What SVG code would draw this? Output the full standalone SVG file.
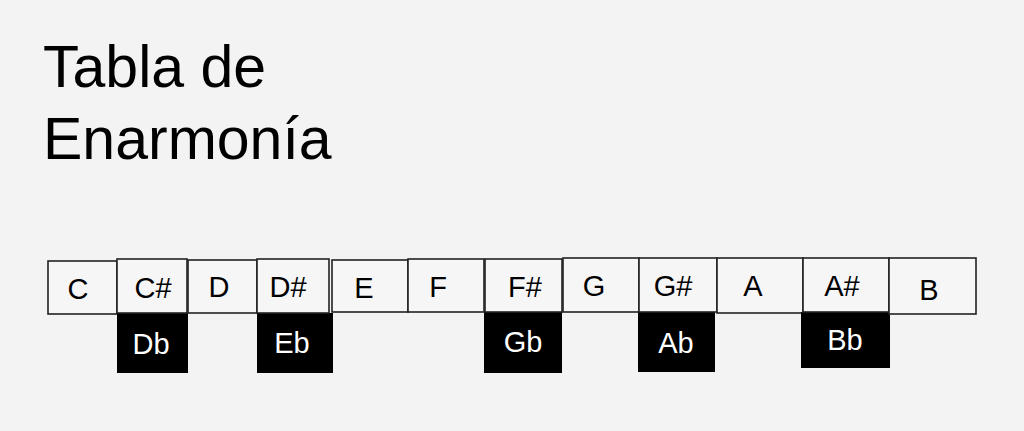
<svg xmlns="http://www.w3.org/2000/svg" width="1024" height="431" viewBox="0 0 1024 431">
<style>
.bg{fill:#f3f3f3}
.w{fill:#f6f6f6;stroke:#222;stroke-width:1.6}
.k{fill:#000}
.t{font-family:"Liberation Sans",Arial,sans-serif;font-size:29px;fill:#000;text-anchor:middle}
.tk{font-family:"Liberation Sans",Arial,sans-serif;font-size:29px;fill:#fff;text-anchor:middle}
.title{font-family:"Liberation Sans",Arial,sans-serif;font-size:59px;fill:#000}
</style>
<rect class="bg" x="0" y="0" width="1024" height="431"/>
<g id="title">
<text class="title" x="43" y="87">Tabla de</text>
<text class="title" x="43" y="159">Enarmonía</text>
</g>
<g id="key-C"><rect class="w" x="48" y="261" width="69" height="53"/><text class="t" x="78" y="299">C</text></g>
<g id="key-Db"><rect class="k" x="117" y="313" width="71" height="60"/><text class="tk" x="151" y="354">Db</text></g>
<g id="key-Cs"><rect class="w" x="117" y="259" width="70" height="54"/><text class="t" x="153" y="298">C#</text></g>
<g id="key-D"><rect class="w" x="188" y="260" width="69" height="53"/><text class="t" x="219" y="297">D</text></g>
<g id="key-Eb"><rect class="k" x="257" y="313" width="76" height="60"/><text class="tk" x="292" y="353">Eb</text></g>
<g id="key-Ds"><rect class="w" x="257" y="259" width="72" height="54"/><text class="t" x="288" y="297">D#</text></g>
<g id="key-E"><rect class="w" x="332" y="260" width="76" height="52"/><text class="t" x="364" y="298">E</text></g>
<g id="key-F"><rect class="w" x="408" y="259" width="76" height="53"/><text class="t" x="438" y="297">F</text></g>
<g id="key-Gb"><rect class="k" x="484" y="312" width="78" height="61"/><text class="tk" x="523" y="352">Gb</text></g>
<g id="key-Fs"><rect class="w" x="485" y="259" width="77" height="53"/><text class="t" x="525" y="297">F#</text></g>
<g id="key-G"><rect class="w" x="563" y="258" width="76" height="54"/><text class="t" x="594" y="296">G</text></g>
<g id="key-Ab"><rect class="k" x="638" y="312" width="77" height="60"/><text class="tk" x="676" y="353">Ab</text></g>
<g id="key-Gs"><rect class="w" x="639" y="258" width="78" height="54"/><text class="t" x="673" y="296">G#</text></g>
<g id="key-A"><rect class="w" x="717" y="258" width="86" height="55"/><text class="t" x="753" y="296">A</text></g>
<g id="key-Bb"><rect class="k" x="801" y="312" width="89" height="56"/><text class="tk" x="845" y="350">Bb</text></g>
<g id="key-As"><rect class="w" x="803" y="258" width="86" height="54"/><text class="t" x="842" y="296">A#</text></g>
<g id="key-B"><rect class="w" x="889" y="258" width="87" height="56"/><text class="t" x="929" y="300">B</text></g>
<g id="connectors"/>
</svg>
